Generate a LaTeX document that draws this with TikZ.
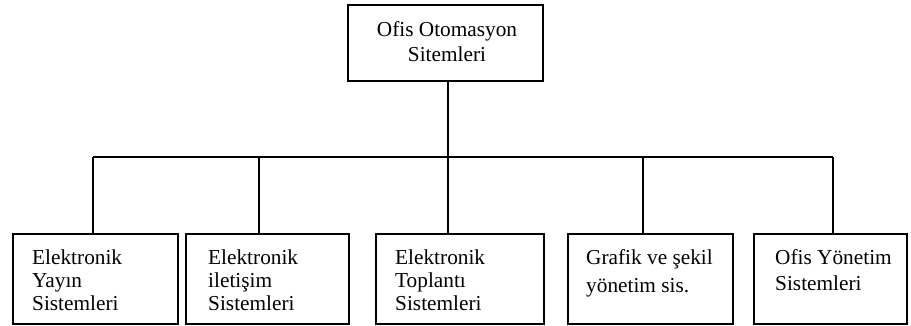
\documentclass[tikz,border=0pt]{standalone}
\usepackage{fontspec}
\setmainfont{Liberation Serif}
\begin{document}
\begin{tikzpicture}[x=1pt,y=-1pt,
  box/.style={draw,line width=1.7pt,inner sep=0pt,anchor=north west},
  wire/.style={line width=1.7pt},
  toptxt/.style={inner sep=0pt,anchor=base,font=\fontsize{21.3}{24}\selectfont},
  txt/.style={inner sep=0pt,anchor=base west,font=\fontsize{21.3}{23}\selectfont}]
\useasboundingbox (0,0) rectangle (911,326);

% root box
\node[box,minimum width=195pt,minimum height=76pt] (root) at (347,4) {};
\node[toptxt] (r1) at (447,37) {Ofis Otomasyon};
\node[toptxt] (r2) at (447,62) {Sitemleri};

% child boxes
\node[box,minimum width=165pt,minimum height=90pt] (b1) at (12,233) {};
\node[box,minimum width=163pt,minimum height=90pt] (b2) at (185,233) {};
\node[box,minimum width=168pt,minimum height=90pt] (b3) at (375,233) {};
\node[box,minimum width=165pt,minimum height=90pt] (b4) at (567,233) {};
\node[box,minimum width=153pt,minimum height=90pt] (b5) at (753,233) {};

% labels
\node[txt] (l1a) at (32,264) {Elektronik};
\node[txt] (l1b) at (32,287) {Yayın};
\node[txt] (l1c) at (32,310) {Sistemleri};
\node[txt] (l2a) at (208,264) {Elektronik};
\node[txt] (l2b) at (208,287) {iletişim};
\node[txt] (l2c) at (208,310) {Sistemleri};
\node[txt] (l3a) at (395,264) {Elektronik};
\node[txt] (l3b) at (395,287) {Toplantı};
\node[txt] (l3c) at (395,310) {Sistemleri};
\node[txt] (l4a) at (586,264) {Grafik ve şekil};
\node[txt] (l4b) at (586,292) {yönetim sis.};
\node[txt] (l5a) at (775,264) {Ofis Yönetim};
\node[txt] (l5b) at (775,290) {Sistemleri};

% bus junctions
\coordinate (d1) at (93,157);
\coordinate (d2) at (259,157);
\coordinate (d3) at (448,157);
\coordinate (d4) at (643,157);
\coordinate (d5) at (833,157);

% connectors
\draw[wire] (root.south -| d3) -- (d3);
\draw[wire] (d1) -- (d5);
\draw[wire] (d1) -- (d1 |- b1.north);
\draw[wire] (d2) -- (d2 |- b2.north);
\draw[wire] (d3) -- (d3 |- b3.north);
\draw[wire] (d4) -- (d4 |- b4.north);
\draw[wire] (d5) -- (d5 |- b5.north);
\end{tikzpicture}
\end{document}
